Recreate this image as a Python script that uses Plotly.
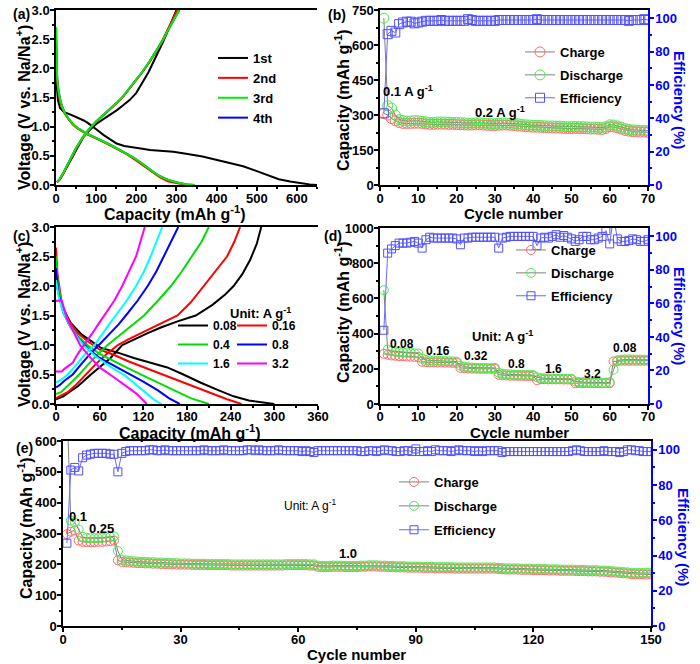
import plotly.graph_objects as go

FONT = "Liberation Sans, Arial, sans-serif"
W, H = 700, 664

# ---------------- (a) galvanostatic curves, first four cycles ----------------
a1_dis_cap = [0, 2, 5, 10, 20, 35, 50, 68, 80, 93, 105, 118, 135, 151, 170, 193, 215, 234, 260, 292,
              320, 342, 365, 383, 400, 417, 440, 466, 495, 525, 555, 583, 610, 632, 650]
a1_dis_v = [1.85, 1.6, 1.45, 1.32, 1.25, 1.21, 1.17, 1.11, 1.06, 1.0, 0.93, 0.86, 0.78, 0.71, 0.67, 0.64,
            0.62, 0.6, 0.59, 0.57, 0.54, 0.52, 0.49, 0.46, 0.43, 0.4, 0.36, 0.32, 0.25, 0.17, 0.1, 0.06,
            0.03, 0.01, 0.0]
a1_chg_cap = [3, 10, 20, 35, 50, 68, 85, 101, 118, 134, 151, 168, 184, 200, 217, 230, 242, 255, 267, 280, 290, 300]
a1_chg_v = [0.05, 0.1, 0.22, 0.4, 0.6, 0.82, 0.95, 1.05, 1.13, 1.2, 1.28, 1.37, 1.46, 1.58, 1.78, 1.93,
            2.1, 2.28, 2.46, 2.67, 2.85, 3.0]
a2_dis_cap = [0, 1, 3, 6, 10, 16, 22, 32, 43, 55, 68, 80, 93, 110, 126, 143, 159, 176, 193, 210, 226,
              243, 259, 280, 300, 318, 335]
a2_dis_v = [2.3, 2.0, 1.8, 1.6, 1.45, 1.32, 1.22, 1.12, 1.03, 0.96, 0.9, 0.86, 0.82, 0.77, 0.71, 0.65,
            0.59, 0.53, 0.45, 0.37, 0.28, 0.2, 0.13, 0.06, 0.03, 0.01, 0.0]
a2_chg_cap = [3, 10, 20, 35, 50, 68, 85, 101, 126, 151, 168, 184, 200, 217, 234, 251, 265, 280, 292, 302]
a2_chg_v = [0.05, 0.1, 0.22, 0.42, 0.62, 0.82, 0.97, 1.09, 1.24, 1.4, 1.52, 1.66, 1.8, 1.95, 2.12, 2.3,
            2.48, 2.69, 2.86, 3.0]
a3_dis_cap = [0, 1, 3, 6, 10, 16, 22, 32, 43, 55, 68, 80, 93, 110, 126, 143, 159, 176, 193, 210, 226,
              243, 259, 282, 305, 325, 345]
a3_dis_v = [2.7, 2.05, 1.82, 1.62, 1.47, 1.33, 1.23, 1.13, 1.04, 0.97, 0.91, 0.87, 0.83, 0.78, 0.72, 0.66,
            0.6, 0.54, 0.47, 0.39, 0.3, 0.22, 0.15, 0.08, 0.04, 0.01, 0.0]
a3_chg_cap = [2, 9, 19, 34, 49, 67, 84, 100, 125, 150, 167, 183, 199, 216, 233, 250, 266, 282, 295, 307]
a3_chg_v = [0.05, 0.1, 0.22, 0.42, 0.62, 0.82, 0.97, 1.09, 1.24, 1.4, 1.52, 1.66, 1.8, 1.95, 2.12, 2.3,
            2.48, 2.69, 2.86, 3.0]
a_names = ["1st", "2nd", "3rd", "4th"]

# ---------------- (c) rate curves ----------------
c_rates = ["0.08", "0.16", "0.4", "0.8", "1.6", "3.2"]
c_chg_cap = [
    [0, 5, 10, 18, 30, 48, 62, 75, 91, 108, 126, 145, 167, 192, 215, 232, 244, 256, 267, 276, 282],
    [0, 5, 16, 28, 41, 55, 70, 85, 100, 117, 140, 167, 185, 203, 220, 235, 245, 253],
    [0, 7, 18, 32, 45, 58, 71, 91, 105, 121, 140, 158, 173, 187, 200, 210],
    [0, 5, 12, 23, 35, 47, 59, 75, 86, 96, 112, 126, 138, 148, 158, 168],
    [0, 3, 8, 16, 27, 40, 53, 64, 73, 82, 97, 110, 121, 130, 138, 146],
    [0, 8, 12, 18, 23, 30, 39, 50, 58, 66, 80, 91, 101, 110, 116, 122],
]
c_chg_v = [
    [0.08, 0.1, 0.13, 0.2, 0.3, 0.5, 0.65, 0.78, 1.0, 1.1, 1.2, 1.3, 1.4, 1.5, 1.68, 1.85, 2.0, 2.2, 2.45, 2.72, 3.0],
    [0.1, 0.13, 0.2, 0.33, 0.5, 0.68, 0.85, 1.0, 1.1, 1.2, 1.33, 1.5, 1.72, 2.0, 2.25, 2.5, 2.75, 3.0],
    [0.17, 0.2, 0.33, 0.5, 0.68, 0.85, 1.0, 1.2, 1.33, 1.5, 1.75, 2.0, 2.25, 2.5, 2.75, 3.0],
    [0.28, 0.32, 0.4, 0.5, 0.68, 0.85, 1.0, 1.2, 1.35, 1.5, 1.75, 2.0, 2.25, 2.5, 2.75, 3.0],
    [0.37, 0.38, 0.42, 0.5, 0.65, 0.85, 1.0, 1.2, 1.35, 1.5, 1.75, 2.0, 2.25, 2.5, 2.75, 3.0],
    [0.55, 0.55, 0.6, 0.65, 0.7, 0.85, 1.0, 1.2, 1.35, 1.5, 1.75, 2.0, 2.25, 2.5, 2.75, 3.0],
]
c_dis_cap = [
    [0, 3, 10, 20, 35, 50, 62, 85, 107, 130, 153, 175, 199, 222, 244, 265, 285, 300],
    [0, 2, 8, 18, 30, 45, 60, 80, 100, 130, 160, 190, 215, 235, 255],
    [0, 2, 8, 18, 30, 45, 60, 80, 100, 130, 160, 185, 210],
    [0, 3, 10, 20, 32, 45, 60, 80, 100, 120, 140, 155, 170],
    [0, 4, 10, 20, 30, 40, 55, 75, 95, 106, 120, 135, 145],
    [0, 8, 15, 25, 33, 45, 60, 80, 95, 110, 125],
]
c_dis_v = [
    [2.1, 1.9, 1.6, 1.38, 1.18, 1.05, 0.95, 0.87, 0.78, 0.7, 0.62, 0.5, 0.36, 0.24, 0.13, 0.06, 0.02, 0.0],
    [2.65, 2.2, 1.7, 1.4, 1.2, 1.05, 0.92, 0.83, 0.72, 0.58, 0.44, 0.3, 0.17, 0.08, 0.0],
    [2.5, 2.1, 1.65, 1.35, 1.15, 0.98, 0.85, 0.72, 0.6, 0.42, 0.25, 0.1, 0.0],
    [2.3, 1.9, 1.55, 1.3, 1.1, 0.93, 0.78, 0.65, 0.52, 0.38, 0.23, 0.1, 0.0],
    [2.1, 1.8, 1.55, 1.3, 1.12, 0.97, 0.8, 0.63, 0.48, 0.37, 0.22, 0.07, 0.0],
    [1.75, 1.75, 1.45, 1.2, 1.0, 0.82, 0.62, 0.45, 0.32, 0.18, 0.0],
]

# ---------------- (b) cycling at 0.2 A/g ----------------
b_cycles = list(range(1, 71))
b_charge = [307, 300, 285, 275, 268, 264, 264, 264, 265, 265, 264, 262, 260, 260, 261, 261, 261, 260, 260, 259,
            258, 258, 257, 257, 258, 258, 257, 256, 255, 255, 256, 257, 257, 256, 255, 253, 252, 250, 249, 248,
            248, 247, 246, 245, 245, 244, 244, 243, 242, 242, 243, 242, 242, 241, 240, 240, 239, 238, 242, 250,
            249, 245, 240, 234, 231, 229, 228, 227, 227, 226]
b_discharge = [715, 340, 330, 300, 280, 276, 274, 274, 276, 275, 273, 271, 268, 268, 270, 270, 270, 269, 268, 268,
               267, 266, 265, 265, 266, 266, 265, 264, 263, 263, 264, 265, 265, 265, 264, 262, 260, 258, 257, 256,
               256, 255, 254, 253, 253, 252, 252, 251, 250, 250, 251, 250, 250, 249, 248, 248, 247, 246, 250, 258,
               257, 253, 248, 242, 238, 236, 235, 234, 234, 233]
b_eff = [43, 90.5, 92.5, 91.5, 96.5, 97.5, 98, 98, 97, 97.5, 98, 98.5, 98.5, 98.5, 98.5, 99, 98.5, 98.5, 98.5, 98.5,
         98.5, 98.5, 99.5, 99, 98.5, 98.5, 98.5, 98.5, 98.5, 98.5, 99, 99, 99, 99, 99, 99, 99, 99, 99, 99,
         99.5, 99, 99, 99, 99, 99, 99, 99, 99, 99, 99, 99, 99, 99, 99, 99, 99, 99, 99, 99,
         99, 99, 99, 99, 98.5, 99, 99, 99, 99.5, 99]

# ---------------- (d) rate capability ----------------
d_cycles = list(range(1, 71))
d_charge = [285, 280, 276, 274, 272, 272, 270, 269, 268, 267,
            240, 238, 237, 237, 236, 236, 235, 235, 234, 234,
            205, 203, 202, 201, 201, 200, 200, 200, 200, 200,
            166, 163, 162, 161, 161, 160, 160, 159, 159, 159,
            135, 141, 141, 140, 140, 140, 140, 139, 139, 139,
            118, 119, 119, 119, 119, 119, 119, 118, 120, 118,
            242, 244, 246, 246, 246, 246, 246, 246, 246, 246]
d_discharge = [647, 310, 302, 298, 295, 293, 292, 290, 288, 287,
               258, 250, 248, 247, 246, 245, 244, 243, 242, 241,
               218, 212, 209, 207, 206, 205, 205, 204, 204, 205,
               178, 172, 170, 168, 167, 166, 166, 165, 165, 164,
               152, 147, 146, 145, 145, 144, 144, 143, 143, 143,
               128, 125, 124, 123, 123, 122, 122, 121, 121, 124,
               195, 248, 252, 253, 253, 253, 252, 252, 252, 251]
d_eff = [44, 90, 92.5, 94.5, 96, 96, 96, 96.5, 97, 96,
         93, 98, 99.5, 99, 99, 99, 99, 99, 99, 98.5,
         95, 99, 99, 99.5, 99.5, 99.5, 99.5, 99.5, 99.5, 99.5,
         93, 99, 99.5, 100, 100, 100, 100, 100, 100, 100,
         94.5, 99, 99.5, 99, 100, 101, 99.5, 100.5, 99.5, 98.5,
         97, 98, 100, 100, 98, 98, 99, 100, 103.5, 95.5,
         112, 98.5, 97, 97, 97.5, 98.5, 98, 97, 97, 98]
d_labels = ["0.08", "0.16", "0.32", "0.8", "1.6", "3.2", "0.08"]
d_label_x = [5.7, 15.2, 25, 35.7, 45.2, 55.4, 63.9]
d_label_y = [341, 302, 270, 228, 198, 172, 319]

# ---------------- (e) long cycling ----------------
e_cycles = list(range(1, 151))
e_discharge = [720, 342, 336, 313, 289, 286, 285, 285, 285, 286,
               287, 289, 291, 243, 215, 213, 211, 210, 209, 208,
               208, 207, 207, 206, 206, 205, 205, 204, 204, 203,
               203, 203, 202, 202, 202, 202, 201, 201, 201, 201,
               201, 201, 200, 200, 200, 200, 200, 200, 200, 200,
               200, 200, 200, 200, 200, 200, 201, 201, 201, 201,
               201, 201, 200, 200, 196, 195, 195, 195, 196, 196,
               196, 195, 195, 195, 195, 196, 196, 197, 197, 197,
               196, 196, 195, 195, 194, 194, 194, 193, 193, 193,
               193, 192, 192, 192, 191, 191, 191, 191, 191, 190,
               190, 190, 190, 190, 190, 190, 190, 190, 190, 190,
               189, 188, 187, 187, 187, 187, 186, 186, 186, 185,
               185, 185, 185, 184, 184, 184, 183, 183, 183, 183,
               182, 182, 182, 181, 181, 181, 180, 180, 179, 178,
               177, 176, 175, 174, 172, 172, 172, 172, 172, 172]
e_charge = [298, 306, 310, 277, 273, 272, 272, 272, 273, 273,
            274, 275, 277, 213, 208, 207, 206, 205, 204, 204,
            203, 203, 202, 202, 201, 201, 200, 200, 199, 199,
            199, 199, 198, 198, 198, 198, 197, 197, 197, 197,
            197, 197, 196, 196, 196, 196, 196, 196, 196, 196,
            196, 196, 196, 196, 196, 196, 197, 197, 197, 197,
            197, 197, 196, 196, 192, 191, 191, 191, 192, 192,
            192, 191, 191, 191, 191, 192, 192, 193, 193, 193,
            192, 192, 191, 191, 190, 190, 190, 189, 189, 189,
            189, 188, 188, 188, 187, 187, 187, 187, 187, 186,
            186, 186, 186, 186, 186, 186, 186, 186, 186, 186,
            185, 184, 183, 183, 183, 183, 182, 182, 182, 181,
            181, 181, 181, 180, 180, 180, 179, 179, 179, 179,
            178, 178, 178, 177, 177, 177, 176, 176, 175, 174,
            173, 172, 171, 170, 168, 168, 168, 168, 167, 167]
e_eff = [47, 88.5, 90, 88, 95.5, 97, 97.5, 98, 98, 98,
         98, 97.5, 97.5, 87.5, 98, 99, 99.5, 99.5, 99.5, 99.5,
         99.5, 100, 100, 99.5, 99.5, 100, 99.5, 99.5, 99.5, 99.5,
         99.5, 99.5, 99.5, 99.5, 99.5, 100, 99.5, 99.5, 99.5, 99.5,
         100, 99.5, 99.5, 99.5, 99.5, 99.5, 100, 100, 99.5, 100,
         99.5, 99.5, 99.5, 99.5, 100, 99.5, 99.5, 99.5, 99.5, 99.5,
         99, 99.5, 99, 98.5, 99.5, 99.5, 99.5, 99.5, 99.5, 99.5,
         99.5, 99.5, 99.5, 99.5, 99.5, 99, 99, 99.5, 99.5, 99,
         99.5, 100, 99.5, 99.5, 99, 99, 99.5, 99.5, 99, 100.5,
         99, 99, 99.5, 99, 100, 99.5, 99.5, 99.5, 99, 99.5,
         100, 99.5, 99.5, 99.5, 99, 99.5, 99, 99.5, 99.5, 99.5,
         99.5, 98.5, 99, 99, 99, 99, 99, 99, 99, 99,
         99, 99, 99, 99, 99, 99, 99, 99, 99, 99.5,
         100, 99.5, 99, 99, 99, 99, 99, 99.5, 99, 99,
         99, 98.5, 99, 100, 100, 99.5, 99.5, 99, 99, 99]
e_labels = ["0.1", "0.25", "1.0"]
e_label_x = [3.7, 9.7, 72.7]
e_label_y = [354, 316, 235]

# ---------------- styling ----------------
RED, GREEN, BLUE_MK, GREY = "#ff6a6a", "#4ee84e", "#5050ff", "#808080"
BLUE = "#0000ff"


def px(x):
    return x / W


def py(y):
    return 1 - y / H


fig = go.Figure()

# (a)
a_sets = [
    ("1st", a1_dis_cap, a1_dis_v, a1_chg_cap, a1_chg_v, "black", 1),
    ("4th", a3_dis_cap, a3_dis_v, a3_chg_cap, a3_chg_v, "#0000ff", 4),
    ("2nd", a2_dis_cap, a2_dis_v, a2_chg_cap, a2_chg_v, "#ff0000", 2),
    ("3rd", a3_dis_cap, a3_dis_v, a3_chg_cap, a3_chg_v, "#00ee00", 3),
]
for name, dc, dv, cc, cv, col, rank in a_sets:
    fig.add_trace(go.Scatter(x=dc, y=dv, mode="lines", line=dict(color=col, width=2), name=name,
                             legend="legend", legendrank=rank, legendgroup="a" + name,
                             xaxis="x", yaxis="y"))
    fig.add_trace(go.Scatter(x=cc, y=cv, mode="lines", line=dict(color=col, width=2), name=name,
                             legendgroup="a" + name, showlegend=False, xaxis="x", yaxis="y"))

# (c)
c_cols = ["black", "#ff0000", "#00dd00", "#0000ff", "#00ffff", "#ff00ff"]
for i, rate in enumerate(c_rates):
    lg = "legend3" if i % 2 == 0 else "legend4"
    fig.add_trace(go.Scatter(x=c_dis_cap[i], y=c_dis_v[i], mode="lines", line=dict(color=c_cols[i], width=2),
                             name=rate, legend=lg, legendgroup="c" + rate, xaxis="x3", yaxis="y4"))
    fig.add_trace(go.Scatter(x=c_chg_cap[i], y=c_chg_v[i], mode="lines", line=dict(color=c_cols[i], width=2),
                             name=rate, legendgroup="c" + rate, showlegend=False, xaxis="x3", yaxis="y4"))


def cycling(cyc, chg, dis, eff, xa, ya, yeff, lg, msize):
    fig.add_trace(go.Scatter(x=cyc, y=eff, mode="lines+markers", name="Efficiency", legend=lg,
                             legendgroup=lg + "e", legendrank=3,
                             line=dict(color="#6a6aff", width=1),
                             marker=dict(symbol="square-open", size=msize - 1, color=BLUE_MK, line=dict(width=1)),
                             xaxis=xa, yaxis=yeff))
    fig.add_trace(go.Scatter(x=cyc, y=chg, mode="lines+markers", name="Charge", legend=lg,
                             legendgroup=lg + "c", legendrank=1,
                             line=dict(color=GREY, width=1),
                             marker=dict(symbol="circle-open", size=msize, color=RED, line=dict(width=1)),
                             xaxis=xa, yaxis=ya))
    fig.add_trace(go.Scatter(x=cyc, y=dis, mode="lines+markers", name="Discharge", legend=lg,
                             legendgroup=lg + "d", legendrank=2,
                             line=dict(color=GREY, width=1),
                             marker=dict(symbol="circle-open", size=msize, color=GREEN, line=dict(width=1)),
                             xaxis=xa, yaxis=ya))


cycling(b_cycles, b_charge, b_discharge, b_eff, "x2", "y2", "y3", "legend2", 10)
cycling(d_cycles, d_charge, d_discharge, d_eff, "x4", "y5", "y6", "legend5", 9)
cycling(e_cycles, e_charge, e_discharge, e_eff, "x5", "y7", "y8", "legend6", 9)

TICKF = dict(family=FONT, size=13, color="black", weight="bold")


def xax(dom, rng, dt, mdt, anchor, standoff=-3):
    return dict(domain=dom, range=rng, dtick=dt, anchor=anchor, showline=True, linecolor="black", linewidth=1.5,
                mirror=True, ticks="outside", ticklen=4, tickwidth=1.5, tickcolor="black",
                ticklabelstandoff=standoff,
                minor=dict(dtick=mdt, ticks="outside", ticklen=2.5, tickcolor="black"),
                showgrid=False, zeroline=False, tickfont=TICKF, automargin=False)


def yax(dom, rng, dt, mdt, anchor, tickformat=None):
    d = dict(domain=dom, range=rng, dtick=dt, anchor=anchor, showline=True, linecolor="black", linewidth=1.5,
             mirror=False, ticks="outside", ticklen=4, tickwidth=1.5, tickcolor="black", ticklabelstandoff=-2,
             minor=dict(dtick=mdt, ticks="outside", ticklen=2.5, tickcolor="black"),
             showgrid=False, zeroline=False, tickfont=TICKF, automargin=False)
    if tickformat:
        d["tickformat"] = tickformat
    return d


def effax(overlay, anchor):
    return dict(overlaying=overlay, anchor=anchor, side="right", range=[0, 105], dtick=20, showline=True,
                linecolor=BLUE, linewidth=1.5, ticks="outside", ticklen=4, tickwidth=1.5, tickcolor=BLUE,
                ticklabelstandoff=-1,
                minor=dict(dtick=10, ticks="outside", ticklen=2.5, tickcolor=BLUE),
                showgrid=False, zeroline=False, automargin=False,
                tickfont=dict(family=FONT, size=13, color=BLUE, weight="bold"))


cap_title = "Capacity (mAh g<sup>-1</sup>)"
volt_title = "Voltage (V vs. Na/Na<sup>+</sup>)"
cyc_title = "Cycle number"

fig.update_layout(
    xaxis=xax([px(56), px(317)], [0, 650], 100, 50, "y"),
    yaxis=yax([py(185), py(10)], [0, 3], 0.5, 0.25, "x", ".1f"),
    xaxis2=xax([px(380), px(648)], [0, 70], 10, 5, "y2"),
    yaxis2=yax([py(185), py(10)], [0, 750], 150, 75, "x2"),
    yaxis3=effax("y2", "x2"),
    xaxis3=xax([px(56), px(318)], [0, 360], 60, 30, "y4", -4),
    yaxis4=yax([py(404), py(227)], [0, 3], 0.5, 0.25, "x3", ".1f"),
    xaxis4=xax([px(380), px(648)], [0, 70], 10, 5, "y5", -4),
    yaxis5=yax([py(404), py(228)], [0, 1000], 200, 100, "x4"),
    yaxis6=effax("y5", "x4"),
    xaxis5=xax([px(63), px(651)], [0, 150], 30, 15, "y7"),
    yaxis7=yax([py(626), py(441)], [0, 600], 100, 50, "x5"),
    yaxis8=effax("y7", "x5"),
)

LEGF = dict(family=FONT, size=13, color="black", weight="bold")
SMALLF = dict(family=FONT, size=12, color="black", weight="bold")
leg_common = dict(bgcolor="rgba(0,0,0,0)", xanchor="left", yanchor="top", itemclick=False)
fig.update_layout(
    legend=dict(x=px(213), y=py(43), font=LEGF, tracegroupgap=0, **leg_common),
    legend2=dict(x=px(520), y=py(37), font=LEGF, tracegroupgap=3, **leg_common),
    legend3=dict(x=px(173), y=py(311), font=SMALLF, tracegroupgap=0, **leg_common),
    legend4=dict(x=px(232), y=py(311), font=SMALLF, tracegroupgap=0, **leg_common),
    legend5=dict(x=px(511), y=py(235), font=LEGF, tracegroupgap=3, **leg_common),
    legend6=dict(x=px(394), y=py(467), font=LEGF, tracegroupgap=4, **leg_common),
)

ann = []
TF_CAP = dict(family=FONT, size=16, color="black", weight="bold")
TF_CYC = dict(family=FONT, size=15, color="black", weight="bold")


def title_ann(text, x, y, angle, font):
    ann.append(dict(text=text, x=px(x), y=py(y), xref="paper", yref="paper", xanchor="center",
                    yanchor="middle", textangle=angle, showarrow=False, font=font))


# axis titles
title_ann(cap_title, 175, 213, 0, TF_CAP)
title_ann(cyc_title, 513, 213, 0, TF_CYC)
title_ann(cap_title, 190, 432, 0, TF_CAP)
title_ann(cyc_title, 519, 432, 0, TF_CYC)
title_ann(cyc_title, 356, 654, 0, TF_CYC)
title_ann(volt_title, 23, 108, -90, TF_CAP)
title_ann(cap_title, 342, 100, -90, TF_CAP)
title_ann(volt_title, 23, 325, -90, TF_CAP)
title_ann(cap_title, 342, 312, -90, TF_CAP)
title_ann(cap_title, 25, 528, -90, TF_CAP)
# efficiency titles (reading top-to-bottom)
for x, y in [(679, 100), (679, 316), (684, 537)]:
    title_ann("Efficiency (%)", x, y, 90, dict(family=FONT, size=15, color=BLUE, weight="bold"))

# panel labels
for lab, x, y in [("(a)", 11, 14), ("(b)", 326, 15), ("(c)", 11, 236), ("(d)", 322, 236), ("(e)", 14, 448)]:
    ann.append(dict(text=lab, x=px(x), y=py(y), xref="paper", yref="paper", xanchor="left", yanchor="middle",
                    showarrow=False, font=dict(family=FONT, size=14, color="black", weight="bold")))
# (b) current labels
ann.append(dict(text="0.1 A g<sup>-1</sup>", x=7.4, y=404, xref="x2", yref="y2", showarrow=False,
                font=dict(family=FONT, size=13, color="black", weight="bold")))
ann.append(dict(text="0.2 A g<sup>-1</sup>", x=31.3, y=314, xref="x2", yref="y2", showarrow=False,
                font=dict(family=FONT, size=13, color="black", weight="bold")))
# (c) unit
ann.append(dict(text="Unit: A g<sup>-1</sup>", x=px(260), y=py(313), xref="paper", yref="paper",
                xanchor="center", yanchor="middle",
                showarrow=False, font=dict(family=FONT, size=13, color="black", weight="bold")))
# (d)
for t, x, y in zip(d_labels, d_label_x, d_label_y):
    ann.append(dict(text=t, x=x, y=y, xref="x4", yref="y5", showarrow=False,
                    font=dict(family=FONT, size=12, color="black", weight="bold")))
ann.append(dict(text="Unit: A g<sup>-1</sup>", x=32, y=387, xref="x4", yref="y5", showarrow=False,
                font=dict(family=FONT, size=13, color="black", weight="bold")))
# (e)
for t, x, y in zip(e_labels, e_label_x, e_label_y):
    ann.append(dict(text=t, x=x, y=y, xref="x5", yref="y7", showarrow=False,
                    font=dict(family=FONT, size=13, color="black", weight="bold")))
ann.append(dict(text="Unit: A g<sup>-1</sup>", x=63, y=392, xref="x5", yref="y7", showarrow=False,
                font=dict(family=FONT, size=12, color="black")))

fig.update_layout(annotations=ann, width=W, height=H, margin=dict(l=0, r=0, t=0, b=0),
                  paper_bgcolor="white", plot_bgcolor="white", font=dict(family=FONT))

fig.write_html("out.html", config={"displayModeBar": False},
               post_script="document.body.style.margin='0px';")
